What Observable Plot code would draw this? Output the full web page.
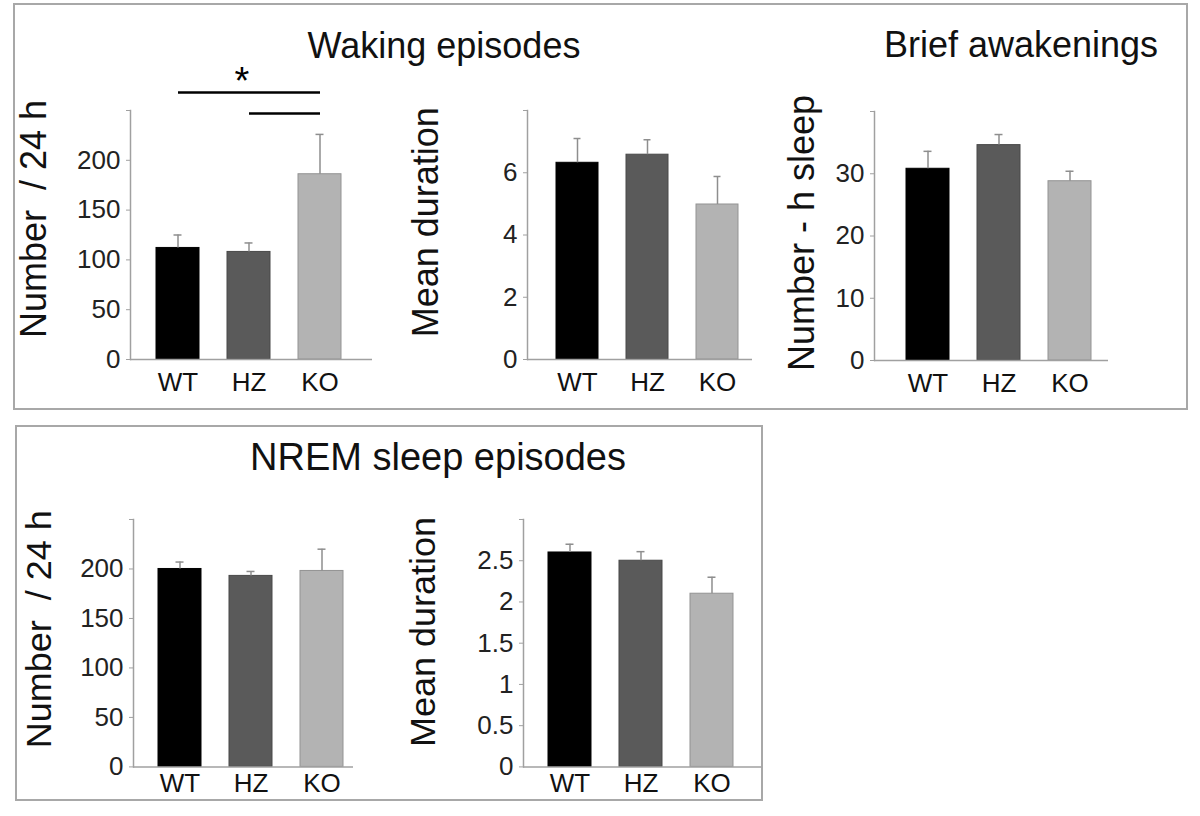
<!DOCTYPE html>
<html><head><meta charset="utf-8">
<script src="https://cdn.jsdelivr.net/npm/d3@7"></script>
<script src="https://cdn.jsdelivr.net/npm/@observablehq/plot@0.6"></script>
<style>
body{margin:0;background:#fff;}
#root{position:relative;width:1200px;height:816px;overflow:hidden;font-family:"Liberation Sans",Arial,sans-serif;}
.box{position:absolute;border:2px solid #a8a8a8;box-sizing:border-box;}
.title{position:absolute;white-space:nowrap;color:#111;transform:translateX(-50%);}
</style></head><body><div id="root"></div>
<script>
// ---- data ----
const genotypes = ["WT", "HZ", "KO"];

const wakingNumberMean = [112, 108, 186];
const wakingNumberSem = [13, 9, 40];
const wakingNumberTicks = [0, 50, 100, 150, 200, 250];

const wakingDurationMean = [6.32, 6.58, 4.98];
const wakingDurationSem = [0.78, 0.48, 0.90];
const wakingDurationTicks = [0, 2, 4, 6, 8];

const briefAwakeningsMean = [30.8, 34.6, 28.8];
const briefAwakeningsSem = [2.8, 1.7, 1.6];
const briefAwakeningsTicks = [0, 10, 20, 30, 40];

const nremNumberMean = [200, 193, 198];
const nremNumberSem = [7, 4.5, 22];
const nremNumberTicks = [0, 50, 100, 150, 200, 250];

const nremDurationMean = [2.6, 2.5, 2.1];
const nremDurationSem = [0.1, 0.11, 0.2];
const nremDurationTicks = [0, 0.5, 1, 1.5, 2, 2.5, 3];

const wakingSignificance = [
  {from: "WT", to: "KO", level: 268},
  {from: "HZ", to: "KO", level: 247}
];
const wakingStar = [{at: "HZ", level: 268, text: "*"}];

// ---- styles ----
const barFills = ["#000000", "#5a5a5a", "#b3b3b3"];
const barStrokes = ["#000000", "#484848", "#939393"];
const axisGray = "#a0a0a0";
const errGray = "#8e8e8e";

const root = document.getElementById("root");

function addBox(l, t, w, h) {
  const d = document.createElement("div");
  d.className = "box";
  Object.assign(d.style, {left: l + "px", top: t + "px", width: w + "px", height: h + "px"});
  root.appendChild(d);
}
function addTitle(text, cx, baseline, fs) {
  const d = document.createElement("div");
  d.className = "title";
  d.textContent = text;
  const top = baseline - ((fs - 1.117 * fs) / 2 + 0.905 * fs);
  Object.assign(d.style, {left: cx + "px", top: top + "px", fontSize: fs + "px", lineHeight: fs + "px"});
  root.appendChild(d);
}

function panel(o) {
  const ml = 125, mr = 30, mt = 70, mb = 50;
  const fw = o.frame.right - o.frame.left, fh = o.frame.bottom - o.frame.top;
  const yMax = o.ticks[o.ticks.length - 1];
  const rows = genotypes.map((g, i) => ({g, mean: o.means[i], top: o.means[i] + o.sems[i], fill: barFills[i], stroke: barStrokes[i]}));
  const chart = Plot.plot({
    width: ml + fw + mr, height: mt + fh + mb,
    marginLeft: ml, marginRight: mr, marginTop: mt, marginBottom: mb,
    style: {position: "absolute", left: (o.frame.left - ml) + "px", top: (o.frame.top - mt) + "px",
            background: "transparent", overflow: "visible", maxWidth: "none",
            fontFamily: "Liberation Sans, Arial, sans-serif"},
    x: {type: "band", domain: genotypes, paddingInner: 0.4, paddingOuter: o.padOuter, align: o.align},
    y: {domain: [0, yMax], nice: false},
    marks: [
      Plot.barY(rows, {x: "g", y: "mean", fill: "fill", stroke: "stroke", strokeWidth: 1}),
      Plot.ruleX(rows, {x: "g", y1: "mean", y2: "top", stroke: errGray, strokeWidth: 1.5}),
      Plot.tickY(rows, {x: "g", y: "top", stroke: errGray, strokeWidth: 1.5, insetLeft: 17.5, insetRight: 17.5}),
      Plot.frame({anchor: "left", stroke: axisGray, strokeWidth: 1.5}),
      Plot.ruleY([0], {stroke: axisGray, strokeWidth: 1.5}),
      Plot.axisY({ticks: o.ticks, tickSize: 4, stroke: axisGray, fill: "none", label: null}),
      Plot.text(o.ticks.filter(t => t !== yMax), {y: d => d, text: d => String(d), frameAnchor: "left",
                  textAnchor: "end", dx: -10, fontSize: 26, fill: "#222"}),
      Plot.axisX({tickSize: 0, tickPadding: o.xPad, fontSize: 26, fill: "#111", label: null}),
      Plot.text([o.yLabel], {text: d => d, frameAnchor: "left", rotate: -90, dx: o.labelDx, dy: o.labelDy,
                             fontSize: 36, fill: "#111", textAnchor: "middle"}),
      ...(o.extra || [])
    ]
  });
  root.appendChild(chart);
}

addBox(13, 3, 1175, 407);
addBox(15, 425, 748, 376);

panel({means: wakingNumberMean, sems: wakingNumberSem, ticks: wakingNumberTicks,
  yLabel: "Number\u00a0 / 24 h", frame: {left: 130, right: 372, top: 110, bottom: 359},
  padOuter: 0.39, align: 0.45, xPad: 13, labelDx: -96.5, labelDy: -16,
  extra: [
    Plot.link(wakingSignificance, {x1: "from", x2: "to", y1: "level", y2: "level", stroke: "#000", strokeWidth: 2.5}),
    Plot.text(wakingStar, {x: "at", y: "level", text: "text", fontSize: 38, dx: -7, dy: -11, fill: "#000"})
  ]});

panel({means: wakingDurationMean, sems: wakingDurationSem, ticks: wakingDurationTicks,
  yLabel: "Mean duration", frame: {left: 526.7, right: 751.7, top: 110, bottom: 359},
  padOuter: 0.29, align: 0.666, xPad: 13, labelDx: -101.2, labelDy: -12.8});

panel({means: briefAwakeningsMean, sems: briefAwakeningsSem, ticks: briefAwakeningsTicks,
  yLabel: "Number - h sleep", frame: {left: 874, right: 1108, top: 111, bottom: 360},
  padOuter: 0.343, align: 0.65, xPad: 13, labelDx: -72.5, labelDy: -3});

panel({means: nremNumberMean, sems: nremNumberSem, ticks: nremNumberTicks,
  yLabel: "Number\u00a0 / 24 h", frame: {left: 133, right: 353, top: 519.3, bottom: 766.7},
  padOuter: 0.245, align: 0.72, xPad: 7, labelDx: -94.5, labelDy: -14});

panel({means: nremDurationMean, sems: nremDurationSem, ticks: nremDurationTicks,
  yLabel: "Mean duration", frame: {left: 523.3, right: 761.7, top: 519.3, bottom: 766.7},
  padOuter: 0.377, align: 0.457, xPad: 7, labelDx: -99.8, labelDy: -11.3});

addTitle("Waking episodes", 444, 58, 36);
addTitle("Brief awakenings", 1021, 57, 36);
addTitle("NREM sleep episodes", 438, 470, 38);
</script>
</body></html>
